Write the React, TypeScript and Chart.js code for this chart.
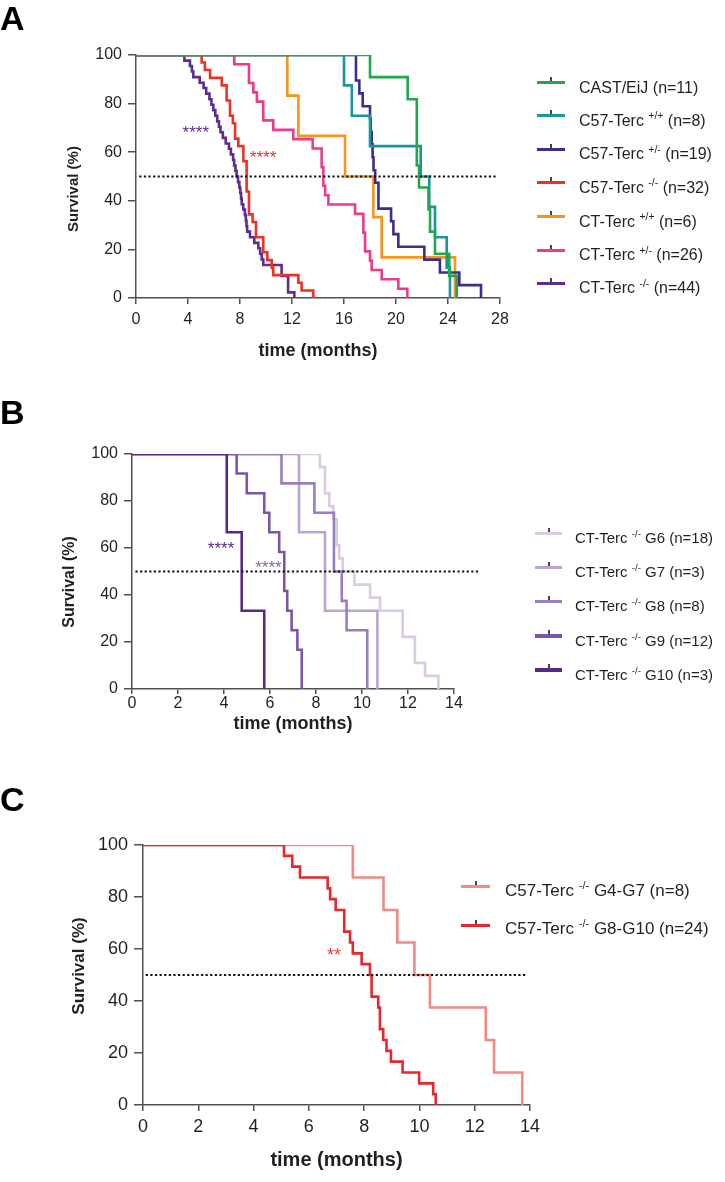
import React, { useEffect, useRef } from 'react';
import { Chart, registerables } from 'chart.js';

Chart.register(...registerables);

const FONT = "'Liberation Sans', Arial, Helvetica, sans-serif";
const INK = '#231f20';
const AXIS = '#505050';

// ---------------- shared ----------------
const yTicks = [0, 20, 40, 60, 80, 100];
const refLevel = 50;

// ---------------- Panel A data ----------------
const aXTicks = [0, 4, 8, 12, 16, 20, 24, 28];
const aRefLine = [0.25, 27.75];
const aNames = ['CAST/EiJ', 'C57-Terc', 'C57-Terc', 'C57-Terc', 'CT-Terc', 'CT-Terc', 'CT-Terc'];
const aSups = ['', '+/+', '+/-', '-/-', '+/+', '+/-', '-/-'];
const aNs = ['(n=11)', '(n=8)', '(n=19)', '(n=32)', '(n=6)', '(n=26)', '(n=44)'];
const aColors = ['#1fa94b', '#17979a', '#3b2f8e', '#ee3124', '#f7941e', '#ec3a8d', '#5c2d91'];

const castTime = [18.0, 20.9, 21.6, 21.77, 22.5, 22.62, 23.0, 24.1, 24.67];
const castSurv = [90.9, 81.8, 54.5, 45.5, 36.4, 27.3, 18.2, 9.1, 0];

const c57wtTime = [16.0, 16.6, 18.0, 21.9, 22.56, 23.0, 23.9, 24.15];
const c57wtSurv = [87.5, 75.0, 62.5, 50.0, 37.5, 25.0, 12.5, 0];

const c57hetTime = [16.92, 17.18, 17.44, 18.0, 18.05, 18.13, 18.2, 18.27, 18.4, 18.65, 19.62, 19.8, 20.18, 22.18, 23.38, 24.87, 26.54];
const c57hetSurv = [89.5, 84.2, 78.9, 73.7, 68.4, 63.2, 57.9, 52.6, 47.4, 36.8, 31.6, 26.3, 21.1, 15.8, 10.5, 5.3, 0];

const c57koTime = [5.05, 5.3, 5.7, 6.6, 6.97, 7.23, 7.45, 7.62, 7.87, 8.26, 8.51, 8.69, 8.97, 9.23, 9.79, 10.1, 10.44, 10.56, 12.49, 12.74, 13.64];
const c57koSurv = [96.9, 93.8, 90.6, 87.5, 81.3, 75.0, 71.9, 65.6, 62.5, 56.3, 43.8, 34.4, 31.3, 25.0, 18.8, 15.6, 12.5, 9.4, 6.3, 3.1, 0];

const ctWtTime = [11.64, 12.49, 16.08, 18.26, 18.9, 24.54];
const ctWtSurv = [83.3, 66.7, 50.0, 33.3, 16.7, 0];

const ctHetTime = [7.56, 8.69, 9.03, 9.3, 9.79, 10.56, 12.1, 13.59, 14.28, 14.41, 14.55, 14.8, 16.85, 17.49, 17.62, 18.0, 18.13, 18.9, 20.18, 20.87];
const ctHetSurv = [96.2, 88.5, 84.6, 80.8, 73.1, 69.2, 65.4, 61.5, 53.8, 46.2, 42.3, 38.5, 34.6, 26.9, 19.2, 15.4, 11.5, 7.7, 3.8, 0];

const ctKoTime = [3.72, 4.15, 4.3, 4.41, 4.9, 5.2, 5.4, 5.65, 5.8, 5.95, 6.1, 6.25, 6.38, 6.5, 6.68, 6.9, 7.15, 7.3, 7.47, 7.55, 7.65, 7.74, 7.85, 7.95, 8.02, 8.08, 8.13, 8.25, 8.38, 8.45, 8.5, 8.55, 8.77, 9.1, 9.41, 9.55, 9.67, 9.79, 11.2, 11.7, 12.18];
const ctKoSurv = [97.7, 95.5, 93.2, 90.9, 88.6, 86.4, 84.1, 81.8, 79.5, 77.3, 75.0, 72.7, 70.5, 68.2, 65.9, 63.6, 61.4, 59.1, 56.8, 54.5, 52.3, 50.0, 47.7, 45.5, 43.2, 40.9, 38.6, 36.4, 34.1, 31.8, 29.5, 27.3, 25.0, 22.7, 20.5, 18.2, 15.9, 13.6, 9.1, 2.3, 0];

// ---------------- Panel B data ----------------
const bXTicks = [0, 2, 4, 6, 8, 10, 12, 14];
const bRefLine = [0.15, 15.13];
const bNames = ['CT-Terc', 'CT-Terc', 'CT-Terc', 'CT-Terc', 'CT-Terc'];
const bSups = ['-/-', '-/-', '-/-', '-/-', '-/-'];
const bNs = ['G6 (n=18)', 'G7 (n=3)', 'G8 (n=8)', 'G9 (n=12)', 'G10 (n=3)'];
const bColors = ['#dacae4', '#bba3d2', '#9a7dc0', '#7a55a8', '#57298b'];

const g6Time = [8.17, 8.39, 8.58, 8.75, 8.9, 9.01, 9.16, 9.67, 10.35, 10.78, 11.77, 12.3, 12.74, 13.32];
const g6Surv = [94.4, 83.3, 77.8, 72.2, 61.1, 55.6, 50.0, 44.4, 38.9, 33.3, 22.2, 11.1, 5.6, 0];
const g7Time = [7.26, 8.39, 10.67];
const g7Surv = [66.7, 33.3, 0];
const g8Time = [6.5, 7.93, 8.78, 9.12, 9.33, 10.23];
const g8Surv = [87.5, 75.0, 50.0, 37.5, 25.0, 0];
const g9Time = [4.55, 4.99, 5.75, 5.97, 6.4, 6.62, 6.75, 6.94, 7.19, 7.38];
const g9Surv = [91.7, 83.3, 75.0, 66.7, 58.3, 41.7, 33.3, 25.0, 16.7, 0];
const g10Time = [4.12, 4.77, 5.75];
const g10Surv = [66.7, 33.3, 0];

// ---------------- Panel C data ----------------
const cXTicks = [0, 2, 4, 6, 8, 10, 12, 14];
const cRefLine = [0.1, 13.9];
const cNames = ['C57-Terc', 'C57-Terc'];
const cSups = ['-/-', '-/-'];
const cNs = ['G4-G7 (n=8)', 'G8-G10 (n=24)'];
const cColors = ['#f28985', '#e8262b'];

const g4g7Time = [7.59, 8.7, 9.2, 9.82, 10.38, 12.4, 12.7, 13.72];
const g4g7Surv = [87.5, 75.0, 62.5, 50.0, 37.5, 25.0, 12.5, 0];
const g8g10Time = [5.1, 5.4, 5.68, 6.68, 6.77, 6.97, 7.28, 7.49, 7.59, 7.91, 8.21, 8.27, 8.51, 8.57, 8.69, 8.81, 8.97, 9.39, 9.99, 10.5, 10.59];
const g8g10Surv = [95.8, 91.7, 87.5, 83.3, 79.2, 75.0, 66.7, 62.5, 58.3, 54.2, 50.0, 41.7, 37.5, 29.2, 25.0, 20.8, 16.7, 12.5, 8.3, 4.2, 0];

// ---------------- helpers ----------------
function kmPoints(t: number[], s: number[]) {
  const pts = [{ x: 0, y: 100 }];
  for (let i = 0; i < t.length; i++) pts.push({ x: t[i], y: s[i] });
  return pts;
}

type TextItem = {
  text: string; x: number; y: number; size: number; bold?: boolean; color: string;
  data?: boolean; rotate?: number; align?: CanvasTextAlign; baseline?: CanvasTextBaseline; dy?: number;
};

function makeTextPlugin(items: TextItem[]) {
  return {
    id: 'panelText',
    afterDraw(chart: any) {
      const ctx = chart.ctx as CanvasRenderingContext2D;
      items.forEach((it) => {
        ctx.save();
        ctx.font = `${it.bold ? 'bold ' : ''}${it.size}px ${FONT}`;
        ctx.fillStyle = it.color;
        ctx.textAlign = it.align || 'center';
        ctx.textBaseline = it.baseline || 'middle';
        let x = it.x;
        let y = it.y;
        if (it.data) {
          x = chart.scales.x.getPixelForValue(it.x);
          y = chart.scales.y.getPixelForValue(it.y);
        }
        ctx.translate(x, y + (it.dy || 0));
        if (it.rotate) ctx.rotate(it.rotate);
        ctx.fillText(it.text, 0, 0);
        ctx.restore();
      });
    },
  };
}

type PanelCfg = {
  top: number; H: number;
  area: { left: number; right: number; top: number; bottom: number };
  xTicks: number[]; refLine: number[];
  series: { t: number[]; s: number[]; color: string; width: number }[];
  tickSize: number; xTickLen: number; yTickLen: number; xPad: number; yPad: number;
  xTitleSize: number; xTitleCenter: number;
  texts: TextItem[];
};

function buildConfig(p: PanelCfg): any {
  const datasets: any[] = [];
  datasets.push({
    data: [{ x: p.refLine[0], y: refLevel }, { x: p.refLine[1], y: refLevel }],
    borderColor: '#111', borderWidth: 2.2, borderDash: [2.2, 2.4], pointRadius: 0, clip: false,
  });
  p.series.forEach((se) =>
    datasets.push({
      data: kmPoints(se.t, se.s), borderColor: se.color, borderWidth: se.width, stepped: 'before',
      pointRadius: 0, borderJoinStyle: 'miter', borderCapStyle: 'butt', fill: false,
    })
  );
  const W = 725;
  const xMax = p.xTicks[p.xTicks.length - 1];
  const titleLH = p.xTitleSize * 1.2;
  return {
    type: 'line',
    data: { datasets },
    options: {
      responsive: false, animation: false, devicePixelRatio: 1,
      layout: { padding: { top: p.area.top, right: W - p.area.right, left: 0, bottom: 0 } },
      plugins: { legend: { display: false }, tooltip: { enabled: false } },
      scales: {
        x: {
          type: 'linear', min: 0, max: xMax,
          afterBuildTicks: (s: any) => { s.ticks = p.xTicks.map((v) => ({ value: v })); },
          afterFit: (s: any) => { s.height = p.H - p.area.bottom; },
          grid: { display: true, drawOnChartArea: false, drawTicks: true, tickLength: p.xTickLen, color: AXIS, lineWidth: 1.5 },
          border: { display: true, color: AXIS, width: 1.5 },
          ticks: { font: { family: FONT, size: p.tickSize }, color: INK, padding: p.xPad, maxRotation: 0, autoSkip: false },
          title: {
            display: true, text: 'time (months)', color: INK,
            font: { family: FONT, size: p.xTitleSize, weight: 'bold' },
            padding: { top: 0, bottom: p.H - p.xTitleCenter - titleLH / 2 },
          },
        },
        y: {
          type: 'linear', min: 0, max: 100,
          afterBuildTicks: (s: any) => { s.ticks = yTicks.map((v) => ({ value: v })); },
          afterFit: (s: any) => { s.width = p.area.left; },
          grid: { display: true, drawOnChartArea: false, drawTicks: true, tickLength: p.yTickLen, color: AXIS, lineWidth: 1.5 },
          border: { display: true, color: AXIS, width: 1.5 },
          ticks: { font: { family: FONT, size: p.tickSize }, color: INK, padding: p.yPad },
        },
      },
    },
    plugins: [makeTextPlugin(p.texts)],
  };
}

function Panel({ cfg }: { cfg: PanelCfg }) {
  const ref = useRef<HTMLCanvasElement>(null);
  useEffect(() => {
    const chart = new Chart(ref.current as HTMLCanvasElement, buildConfig(cfg));
    return () => chart.destroy();
  }, []);
  return (
    <canvas ref={ref} width={725} height={cfg.H}
      style={{ position: 'absolute', left: 0, top: cfg.top, width: 725, height: cfg.H }} />
  );
}

type LegendCfg = {
  names: string[]; sups: string[]; ns: string[]; colors: string[];
  lineX: number; lineLen: number; lineYs: number[]; lineW: number[];
  textX: number; textDy: number; size: number;
};

function Legend({ cfg }: { cfg: LegendCfg }) {
  return (
    <>
      {cfg.names.map((name, i) => {
        const ly = cfg.lineYs[i];
        const lw = cfg.lineW[i];
        return (
          <React.Fragment key={i}>
            <div style={{ position: 'absolute', left: cfg.lineX, top: ly - lw / 2, width: cfg.lineLen, height: lw, background: cfg.colors[i] }} />
            <div style={{ position: 'absolute', left: cfg.lineX + cfg.lineLen / 2 - 1, top: ly - lw / 2 - 4, width: 2, height: 4, background: '#444' }} />
            <div style={{
              position: 'absolute', left: cfg.textX, top: ly + cfg.textDy - 10, height: 20,
              fontFamily: FONT, fontSize: cfg.size, lineHeight: '20px', color: INK, whiteSpace: 'nowrap',
            }}>
              {name}{' '}
              {cfg.sups[i] ? (
                <span style={{ fontSize: cfg.size * 0.65, position: 'relative', top: -cfg.size * 0.4 }}>{cfg.sups[i]}</span>
              ) : null}
              {cfg.sups[i] ? ' ' : ''}{cfg.ns[i]}
            </div>
          </React.Fragment>
        );
      })}
    </>
  );
}

// ---------------- panel configurations ----------------
const panelA: PanelCfg = {
  top: 0, H: 375,
  area: { left: 136, right: 500, top: 55, bottom: 298 },
  xTicks: aXTicks, refLine: aRefLine,
  series: [
    { t: castTime, s: castSurv, color: aColors[0], width: 2.6 },
    { t: c57wtTime, s: c57wtSurv, color: aColors[1], width: 2.6 },
    { t: c57hetTime, s: c57hetSurv, color: aColors[2], width: 2.6 },
    { t: c57koTime, s: c57koSurv, color: aColors[3], width: 2.6 },
    { t: ctWtTime, s: ctWtSurv, color: aColors[4], width: 2.6 },
    { t: ctHetTime, s: ctHetSurv, color: aColors[5], width: 2.6 },
    { t: ctKoTime, s: ctKoSurv, color: aColors[6], width: 2.6 },
  ],
  tickSize: 16, xTickLen: 6, yTickLen: 8, xPad: 6, yPad: 6,
  xTitleSize: 18, xTitleCenter: 351,
  texts: [
    { text: 'A', x: 0, y: 30, size: 34, bold: true, color: '#000', align: 'left', baseline: 'alphabetic' },
    { text: 'Survival (%)', x: 74, y: 189, size: 15, bold: true, color: INK, rotate: -Math.PI / 2 },
    { text: '****', x: 4.6, y: 70, size: 17, color: aColors[6], data: true, baseline: 'alphabetic', dy: 10 },
    { text: '****', x: 9.77, y: 59.7, size: 17, color: aColors[3], data: true, baseline: 'alphabetic', dy: 10 },
  ],
};

const panelB: PanelCfg = {
  top: 375, H: 385,
  area: { left: 132, right: 454, top: 79, bottom: 314 },
  xTicks: bXTicks, refLine: bRefLine,
  series: [
    { t: g10Time, s: g10Surv, color: bColors[4], width: 2.6 },
    { t: g9Time, s: g9Surv, color: bColors[3], width: 2.6 },
    { t: g8Time, s: g8Surv, color: bColors[2], width: 2.6 },
    { t: g7Time, s: g7Surv, color: bColors[1], width: 2.6 },
    { t: g6Time, s: g6Surv, color: bColors[0], width: 2.6 },
  ],
  tickSize: 16, xTickLen: 5, yTickLen: 8, xPad: 0, yPad: 6,
  xTitleSize: 18, xTitleCenter: 349,
  texts: [
    { text: 'B', x: 0, y: 49, size: 34, bold: true, color: '#000', align: 'left', baseline: 'alphabetic' },
    { text: 'Survival (%)', x: 70, y: 207, size: 16, bold: true, color: INK, rotate: -Math.PI / 2 },
    { text: '****', x: 3.87, y: 61.7, size: 17, color: bColors[4], data: true, baseline: 'alphabetic', dy: 10 },
    { text: '****', x: 5.93, y: 53.7, size: 17, color: '#8462b0', data: true, baseline: 'alphabetic', dy: 10 },
  ],
};

const panelC: PanelCfg = {
  top: 760, H: 422,
  area: { left: 143, right: 530, top: 85, bottom: 345 },
  xTicks: cXTicks, refLine: cRefLine,
  series: [
    { t: g8g10Time, s: g8g10Surv, color: cColors[1], width: 2.6 },
    { t: g4g7Time, s: g4g7Surv, color: cColors[0], width: 2.6 },
  ],
  tickSize: 18, xTickLen: 6, yTickLen: 9, xPad: 5, yPad: 6,
  xTitleSize: 20, xTitleCenter: 400,
  texts: [
    { text: 'C', x: 0, y: 51, size: 34, bold: true, color: '#000', align: 'left', baseline: 'alphabetic' },
    { text: 'Survival (%)', x: 79, y: 206, size: 17, bold: true, color: INK, rotate: -Math.PI / 2 },
    { text: '**', x: 6.91, y: 59.6, size: 18, color: '#ef4136', data: true, baseline: 'alphabetic', dy: 10.5 },
  ],
};

const legendA: LegendCfg = {
  names: aNames, sups: aSups, ns: aNs, colors: aColors,
  lineX: 537, lineLen: 28, lineYs: [82.5, 115.5, 149, 182.5, 216.5, 250, 283], lineW: [3, 3, 3, 3, 3, 3, 3],
  textX: 579, textDy: 5, size: 16,
};

const legendB: LegendCfg = {
  names: bNames, sups: bSups, ns: bNs, colors: bColors,
  lineX: 535, lineLen: 27, lineYs: [533.5, 567, 601.5, 636, 670], lineW: [3, 3, 3, 3.3, 3.5],
  textX: 575, textDy: 4.5, size: 15,
};

const legendC: LegendCfg = {
  names: cNames, sups: cSups, ns: cNs, colors: cColors,
  lineX: 461, lineLen: 29, lineYs: [886.7, 925], lineW: [3, 3],
  textX: 505, textDy: 4, size: 17,
};

export default function App() {
  return (
    <div style={{ position: 'absolute', left: 0, top: 0, width: 725, height: 1182, background: '#fff', overflow: 'hidden' }}>
      <Panel cfg={panelA} />
      <Panel cfg={panelB} />
      <Panel cfg={panelC} />
      <Legend cfg={legendA} />
      <Legend cfg={legendB} />
      <Legend cfg={legendC} />
    </div>
  );
}
